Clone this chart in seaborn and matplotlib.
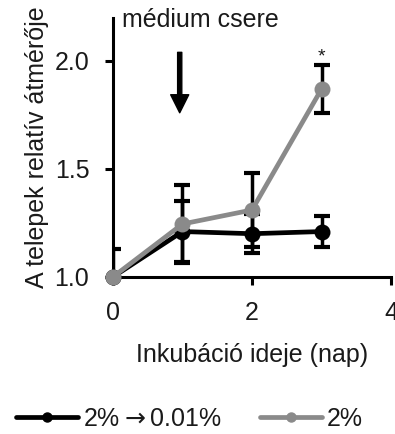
import matplotlib
matplotlib.use("Agg")
import matplotlib.pyplot as plt
import seaborn as sns
import pandas as pd
from matplotlib.lines import Line2D

days = [0, 1, 2, 3]
black_mean = [1.0, 1.21, 1.20, 1.21]
black_err = [0.13, 0.14, 0.09, 0.07]
gray_mean = [1.0, 1.245, 1.31, 1.87]
gray_err = [0.0, 0.18, 0.17, 0.11]
series_names = ["2%$\\rightarrow$0.01%", "2%"]
xticks = [0, 2, 4]
yticks = [1.0, 1.5, 2.0]

sns.set_theme(style="white")
plt.rcParams["font.family"] = ["Liberation Sans", "DejaVu Sans"]
plt.rcParams["mathtext.fontset"] = "dejavusans"

df = pd.DataFrame({
    "day": days * 2,
    "value": black_mean + gray_mean,
    "group": [series_names[0]] * 4 + [series_names[1]] * 4,
})

GRAY = "#8a8a8a"
TXT = "#1a1a1a"
fig = plt.figure(figsize=(3.95, 4.34), dpi=100)
ax = fig.add_axes([0.286, 0.362, 0.704, 0.597])

ax.errorbar(days, black_mean, yerr=black_err, fmt="none", ecolor="black",
            elinewidth=2.5, capsize=5.5, capthick=3, zorder=1)
ax.errorbar(days, gray_mean, yerr=gray_err, fmt="none", ecolor="black",
            elinewidth=2.5, capsize=5.5, capthick=3, zorder=1)

palette = {series_names[0]: "black", series_names[1]: GRAY}
sns.lineplot(data=df, x="day", y="value", hue="group", palette=palette,
             marker="o", markersize=11.5, linewidth=3.4, markeredgewidth=0,
             ax=ax, legend=False, zorder=3, clip_on=False)

ax.set_xlim(0, 4)
ax.set_ylim(1.0, 2.2)
ax.set_xticks(xticks)
ax.set_yticks(yticks)
ax.set_yticklabels([f"{v:.1f}" for v in yticks])
ax.tick_params(axis="both", direction="out", length=6, width=2.2,
               labelsize=18, pad=11, color="black", labelcolor=TXT,
               left=True, bottom=True)
for s in ["top", "right"]:
    ax.spines[s].set_visible(False)
for s in ["left", "bottom"]:
    ax.spines[s].set_color("black")
    ax.spines[s].set_linewidth(2.2)

ax.set_xlabel("Inkubáció ideje (nap)", fontsize=18, labelpad=13, color=TXT)
ax.set_ylabel("A telepek relatív átmérője", fontsize=18, labelpad=4, color=TXT)

ax.text(0.13, 2.19, "médium csere", fontsize=18, ha="left", va="center",
        clip_on=False, color=TXT)
ax.annotate("", xy=(0.96, 1.76), xytext=(0.96, 2.04),
            arrowprops=dict(width=3, headwidth=13, headlength=13,
                            facecolor="black", edgecolor="black", shrink=0))
ax.text(3, 2.02, "*", fontsize=14, ha="center", va="center", color=TXT)

handles = [Line2D([0], [0], color="black", lw=3.4, marker="o", markersize=6.5),
           Line2D([0], [0], color=GRAY, lw=3.4, marker="o", markersize=6.5)]
fig.legend(handles, series_names, loc="lower center", ncol=2, frameon=False,
           fontsize=18, handlelength=2.5, bbox_to_anchor=(0.48, -0.045),
           columnspacing=1.5, handletextpad=0.2, labelcolor=TXT)

fig.savefig("out.png", dpi=100)
